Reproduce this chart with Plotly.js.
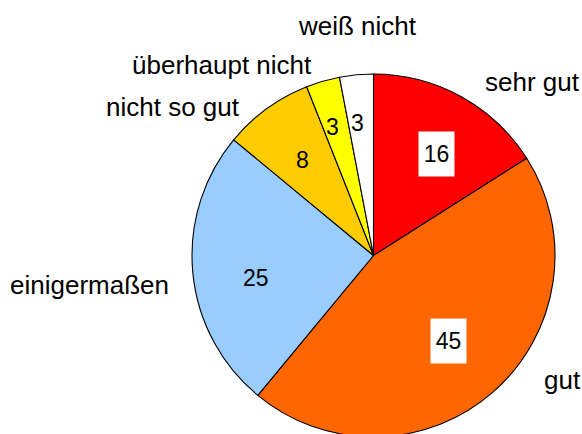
<!DOCTYPE html>
<html>
<head>
<meta charset="utf-8">
<script src="https://cdn.plot.ly/plotly-3.0.1.min.js"></script>
<style>
html,body{margin:0;padding:0;overflow:hidden;background:#fff;}
#chart{width:582px;height:440px;}
</style>
</head>
<body>
<div id="chart"></div>
<script>
// ---- data ----
const categories = ["sehr gut", "gut", "einigermaßen", "nicht so gut", "überhaupt nicht", "weiß nicht"];
const values = [16, 45, 25, 8, 3, 3];
const colors = ["#FF0000", "#FF6600", "#99CCFF", "#FFCC00", "#FFFF00", "#FFFFFF"];
const boxedValues = [true, true, false, false, false, false];

// ---- layout geometry (pixels) ----
const W = 582, H = 440;
const M = {l: 192, r: 27, t: 74, b: 3};
const PW = W - M.l - M.r, PH = H - M.t - M.b;
const R = Math.min(PW, PH) / 2;
const CX = M.l + PW / 2, CY = M.t + PH / 2;
const FONT = "Liberation Sans, Arial, Helvetica, sans-serif";

// outer category label placement (left edge x, baseline y), in pixels
const labelPos = [[483, 90], [542, 388], [8, 293], [104, 115], [130, 73], [296, 34]];
// per-slice nudges for value labels (px)
const valueNudge = [[6, 3], [-4, -4], [1, 11], [-1, 1], [-4, 0], [-3, 1]];

function px(x) { return (x - M.l) / PW; }
function py(y) { return 1 - (y - M.t) / PH; }

const total = values.reduce((a, b) => a + b, 0);
const annotations = [];
let cum = 0;
values.forEach((v, i) => {
  const mid = (cum + v / 2) / total * 2 * Math.PI; // clockwise from 12 o'clock
  cum += v;
  const frac = v >= 8 ? 0.655 : 0.74;
  const x = CX + R * frac * Math.sin(mid) + valueNudge[i][0];
  const y = CY - R * frac * Math.cos(mid) + valueNudge[i][1];
  const a = {
    x: px(x), y: py(y), xref: "paper", yref: "paper",
    text: String(v), showarrow: false,
    xanchor: "center", yanchor: "middle",
    font: {family: FONT, size: 23, color: "#000"}
  };
  if (boxedValues[i]) {
    a.bgcolor = "#FFFFFF";
    a.width = 33; a.height = 42; a.borderpad = 1;
  }
  annotations.push(a);
});

const LFS = 26;
categories.forEach((c, i) => {
  annotations.push({
    x: px(labelPos[i][0]), y: py(labelPos[i][1] - 0.3 * LFS),
    xref: "paper", yref: "paper",
    text: c, showarrow: false,
    xanchor: "left", yanchor: "middle",
    font: {family: FONT, size: LFS, color: "#000"}
  });
});

const data = [{
  type: "pie",
  labels: categories,
  values: values,
  sort: false,
  direction: "clockwise",
  rotation: 0,
  textinfo: "none",
  hoverinfo: "skip",
  marker: {colors: colors, line: {color: "#000000", width: 1.1}},
  showlegend: false
}];

const layout = {
  width: W, height: H,
  margin: M,
  paper_bgcolor: "#FFFFFF",
  plot_bgcolor: "#FFFFFF",
  showlegend: false,
  annotations: annotations,
  font: {family: FONT}
};

Plotly.newPlot("chart", data, layout, {displayModeBar: false, staticPlot: true});
</script>
</body>
</html>
